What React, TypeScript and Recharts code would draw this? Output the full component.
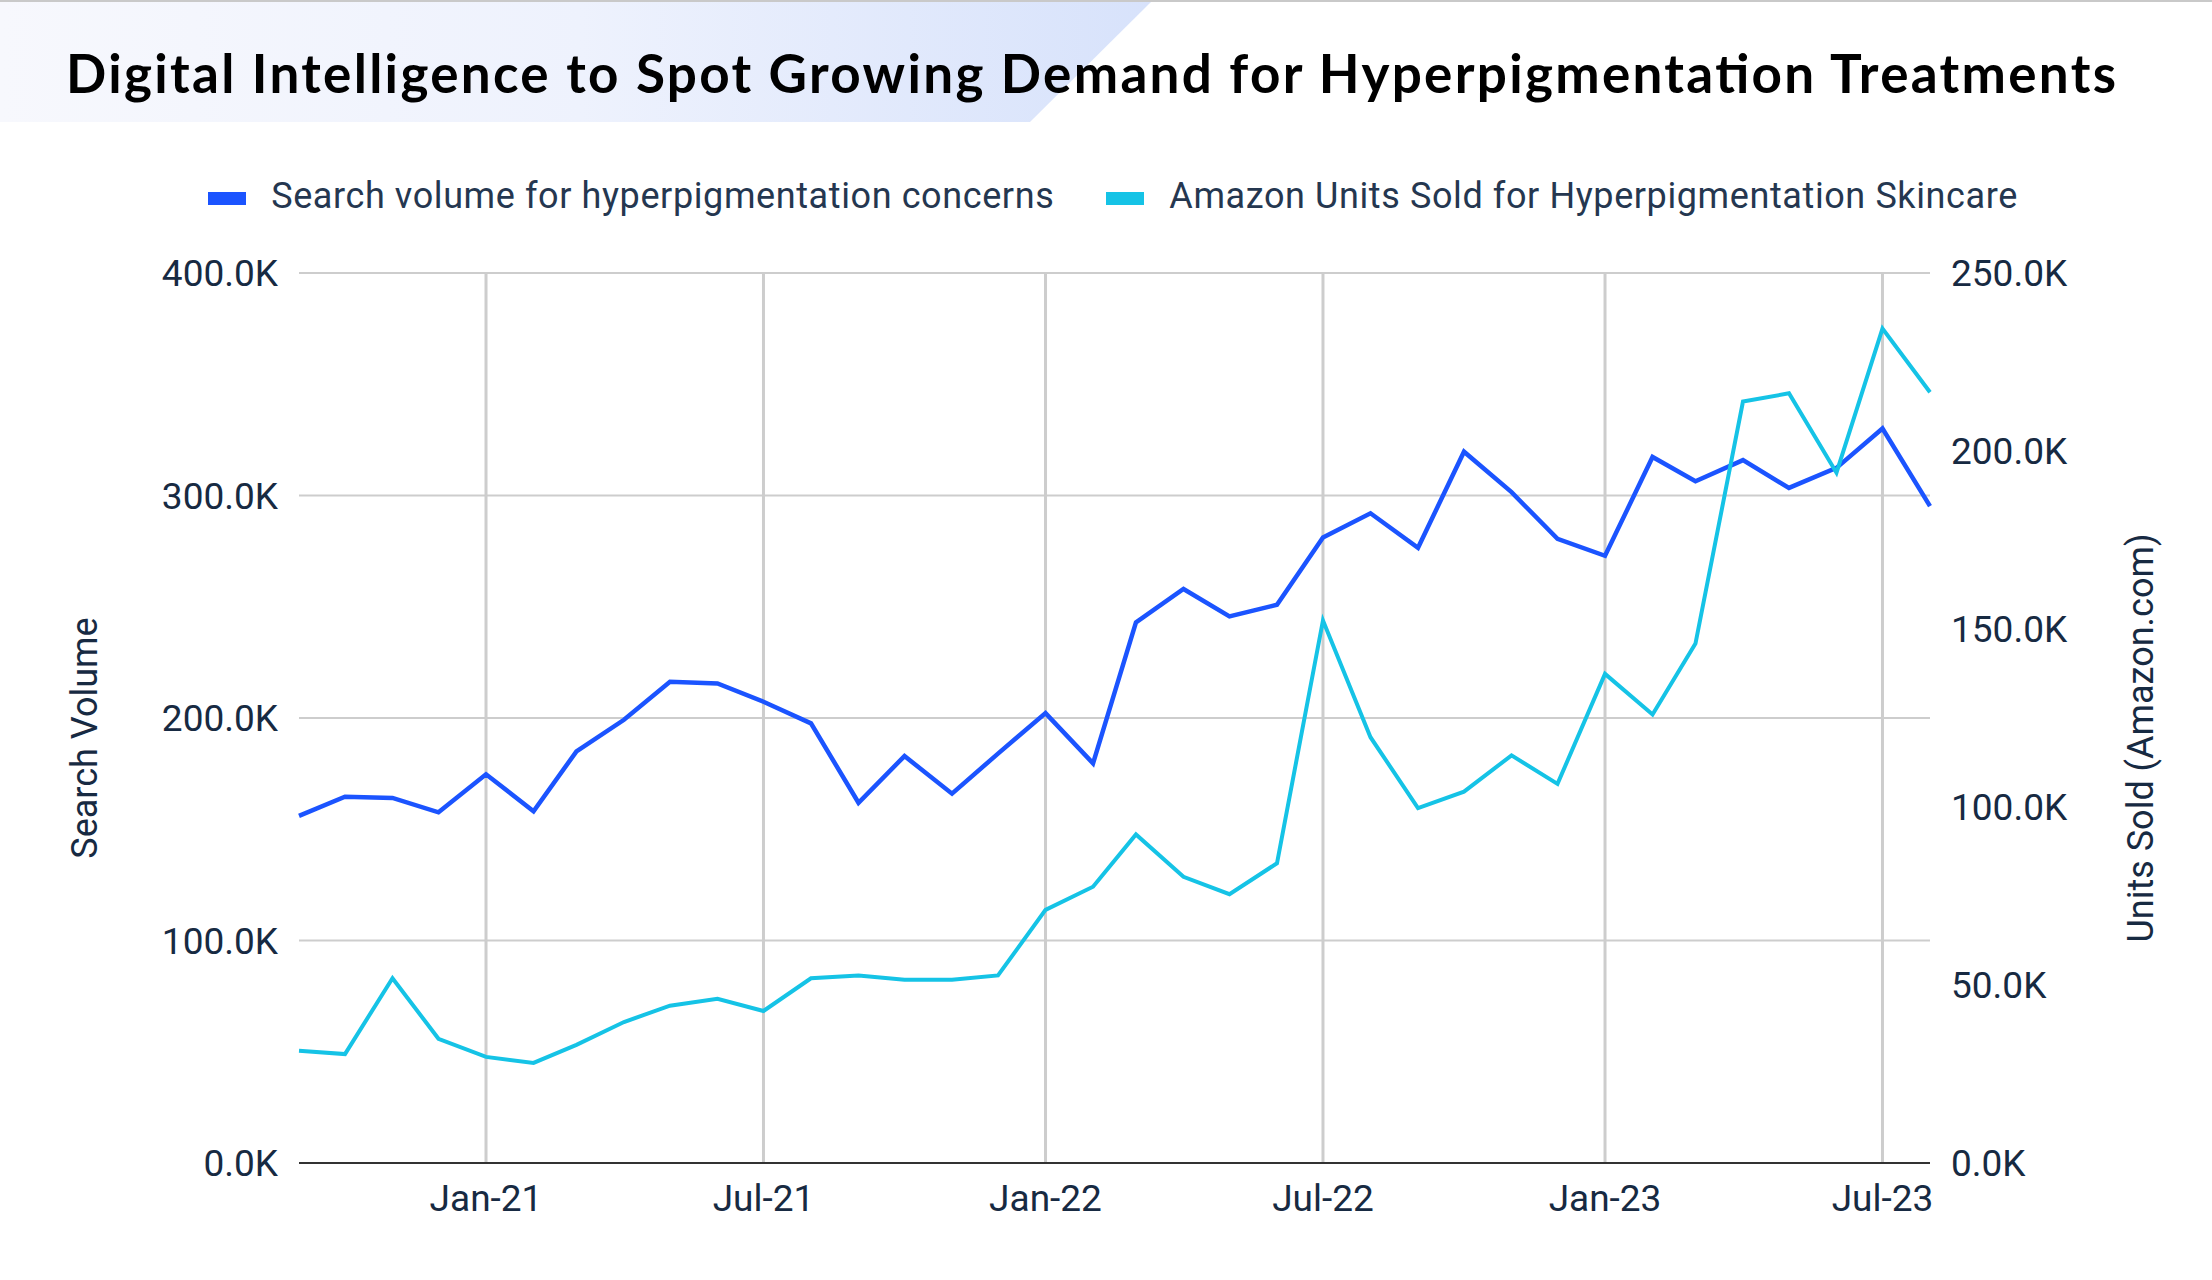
import React from 'react';
import { LineChart, Line, XAxis, YAxis, CartesianGrid, ReferenceLine } from 'recharts';

// monthly points, Sep 2020 .. Aug 2023
const months = [
  '2020-09', '2020-10', '2020-11', '2020-12',
  '2021-01', '2021-02', '2021-03', '2021-04', '2021-05', '2021-06',
  '2021-07', '2021-08', '2021-09', '2021-10', '2021-11', '2021-12',
  '2022-01', '2022-02', '2022-03', '2022-04', '2022-05', '2022-06',
  '2022-07', '2022-08', '2022-09', '2022-10', '2022-11', '2022-12',
  '2023-01', '2023-02', '2023-03', '2023-04', '2023-05', '2023-06',
  '2023-07', '2023-08',
];

// thousands
const searchVolume = [
  156, 164.6, 164.1, 157.6, 174.7, 158.1, 185.0, 199.2, 216.3, 215.5, 207.3, 197.6,
  161.9, 182.9, 166.0, 184.0, 202.2, 179.6, 243.0, 258.0, 245.7, 250.9, 281.1, 292.0,
  276.5, 319.7, 301.5, 280.5, 272.9, 317.3, 306.4, 315.9, 303.4, 312.4, 330.1, 295.2,
];

const unitsSold = [
  31.5, 30.6, 51.9, 34.9, 29.8, 28.1, 33.2, 39.6, 44.2, 46.1, 42.7, 51.9,
  52.7, 51.5, 51.5, 52.7, 71.1, 77.6, 92.3, 80.4, 75.5, 84.2, 152.4, 119.6,
  99.7, 104.3, 114.5, 106.5, 137.4, 126.0, 145.9, 213.9, 216.2, 193.9, 234.4, 216.5,
];

const xTickMonths = ['2021-01', '2021-07', '2022-01', '2022-07', '2023-01', '2023-07'];
const leftTicks = [0, 100, 200, 300, 400];
const rightTicks = [0, 50, 100, 150, 200, 250];

const MONTH_NAMES = ['Jan', 'Feb', 'Mar', 'Apr', 'May', 'Jun', 'Jul', 'Aug', 'Sep', 'Oct', 'Nov', 'Dec'];

const toTime = (m: string) => {
  const [y, mo] = m.split('-').map(Number);
  return Date.UTC(y, mo - 1, 1);
};

const data = months.map((m, i) => ({
  t: toTime(m),
  search: searchVolume[i],
  units: unitsSold[i],
}));

const xTicks = xTickMonths.map(toTime);

const fmtK = (v: number) => `${v.toFixed(1)}K`;
const fmtMonth = (t: number) => {
  const d = new Date(t);
  return `${MONTH_NAMES[d.getUTCMonth()]}-${String(d.getUTCFullYear()).slice(2)}`;
};

const BLUE = '#1b54ff';
const CYAN = '#15c3e6';
const TEXT = '#172a42';
const GRID = '#cdcdcd';
const FONT = 'Roboto, sans-serif';

const tickStyle = { fontSize: 37, fill: TEXT, fontFamily: FONT };

const App: React.FC = () => {
  return (
    <div style={{ position: 'absolute', left: 0, top: 0, width: 2212, height: 1280, background: '#fff', overflow: 'hidden' }}>
      {/* header band */}
      <div
        style={{
          position: 'absolute', left: 0, top: 0, width: 1160, height: 122,
          background: 'linear-gradient(90deg, #f7f8fd 0%, #eef2fd 50%, #d7e2fb 100%)',
          clipPath: 'polygon(0 0, 1153px 0, 1030px 122px, 0 122px)',
        }}
      />
      <div style={{ position: 'absolute', left: 0, top: 0, width: 2212, height: 2, background: '#c9c9c9' }} />
      <svg width={2212} height={122} style={{ position: 'absolute', left: 0, top: 0 }}>
        <text
          x={66}
          y={93}
          textLength={2050}
          lengthAdjust="spacing"
          style={{ fontFamily: 'Lato, sans-serif', fontWeight: 700, fontSize: 53, fill: '#000' }}
        >
          Digital Intelligence to Spot Growing Demand for Hyperpigmentation Treatments
        </text>
      </svg>

      {/* legend */}
      <div
        style={{
          position: 'absolute', left: 7, top: 178, width: 2212, height: 36,
          display: 'flex', justifyContent: 'center', alignItems: 'center', gap: 52,
          fontFamily: FONT, fontSize: 36, letterSpacing: 0.6, lineHeight: '36px', color: '#253750', whiteSpace: 'nowrap',
        }}
      >
        {[
          { c: BLUE, label: 'Search volume for hyperpigmentation concerns' },
          { c: CYAN, label: 'Amazon Units Sold for Hyperpigmentation Skincare' },
        ].map((it) => (
          <div key={it.label} style={{ display: 'flex', alignItems: 'center' }}>
            <div style={{ width: 38, height: 13, background: it.c, marginRight: 25, marginTop: 4 }} />
            <span>{it.label}</span>
          </div>
        ))}
      </div>

      {/* axis titles */}
      <div
        style={{
          position: 'absolute', left: 85, top: 738, transform: 'translate(-50%, -50%) rotate(-90deg)',
          fontFamily: FONT, fontSize: 36, color: TEXT, whiteSpace: 'nowrap', lineHeight: 1,
        }}
      >
        Search Volume
      </div>
      <div
        style={{
          position: 'absolute', left: 2141, top: 738, transform: 'translate(-50%, -50%) rotate(-90deg)',
          fontFamily: FONT, fontSize: 36, color: TEXT, whiteSpace: 'nowrap', lineHeight: 1,
        }}
      >
        Units Sold (Amazon.com)
      </div>

      <div style={{ position: 'absolute', left: 0, top: 0 }}>
        <LineChart width={2212} height={1280} data={data} margin={{ top: 273, right: 0, bottom: 0, left: 0 }}>
          <CartesianGrid yAxisId="left" vertical={false} stroke={GRID} strokeWidth={2} />
          {xTicks.map((t) => (
            <ReferenceLine key={t} yAxisId="left" x={t} stroke={GRID} strokeWidth={3} />
          ))}
          <XAxis
            dataKey="t"
            type="number"
            domain={[data[0].t, data[data.length - 1].t]}
            ticks={xTicks}
            tickFormatter={fmtMonth}
            height={117}
            tickLine={false}
            tickSize={0}
            tickMargin={22}
            axisLine={{ stroke: '#333', strokeWidth: 2 }}
            tick={tickStyle}
          />
          <YAxis
            yAxisId="left"
            domain={[0, 400]}
            ticks={leftTicks}
            tickFormatter={fmtK}
            width={299}
            axisLine={false}
            tickLine={false}
            tickSize={0}
            tickMargin={21}
            tick={tickStyle}
          />
          <YAxis
            yAxisId="right"
            orientation="right"
            domain={[0, 250]}
            ticks={rightTicks}
            tickFormatter={fmtK}
            width={282}
            axisLine={false}
            tickLine={false}
            tickSize={0}
            tickMargin={21}
            tick={{ ...tickStyle, textAnchor: 'start' }}
          />
          <Line
            yAxisId="left"
            type="linear"
            dataKey="search"
            stroke={BLUE}
            strokeWidth={4.5}
            dot={false}
            isAnimationActive={false}
          />
          <Line
            yAxisId="right"
            type="linear"
            dataKey="units"
            stroke={CYAN}
            strokeWidth={4}
            dot={false}
            isAnimationActive={false}
          />
        </LineChart>
      </div>
    </div>
  );
};

export default App;
